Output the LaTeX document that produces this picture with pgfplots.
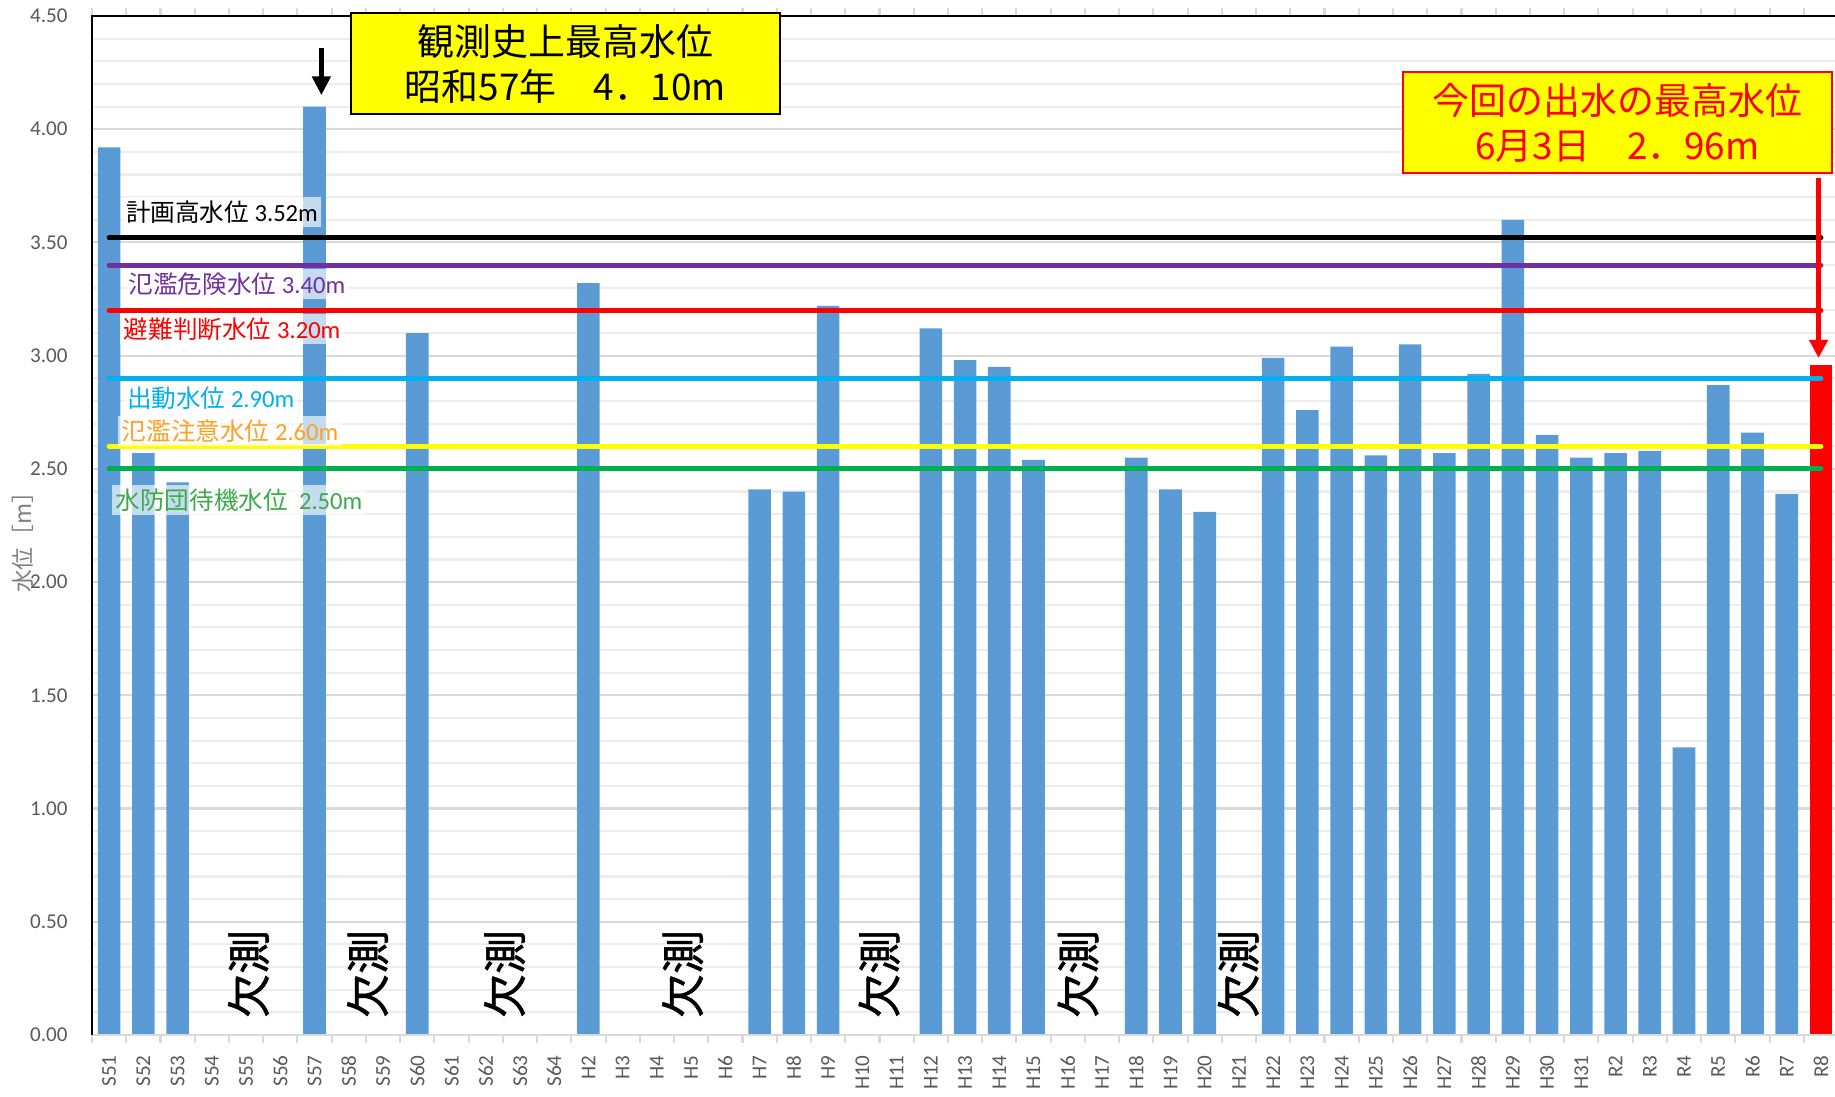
\documentclass[border=0pt]{standalone}
\usepackage{pgfplots}
\pgfplotsset{compat=1.18}
\usepackage{fontspec}
\setmainfont{Carlito}
\newfontfamily\jp{Noto Sans CJK JP}
\newfontfamily\jpb[FakeBold=1.2]{Noto Sans CJK JP}
\usetikzlibrary{arrows.meta}
\definecolor{barblue}{HTML}{5B9BD5}
\definecolor{tickgray}{HTML}{595959}
\definecolor{labgray}{HTML}{808080}
\definecolor{majgrid}{HTML}{D9D9D9}
\definecolor{mingrid}{HTML}{EDEDED}
\definecolor{lpurple}{HTML}{7030A0}
\definecolor{lcyan}{HTML}{00B0F0}
\definecolor{lgreen}{HTML}{00B050}
\definecolor{tgreen}{HTML}{3DAA4A}
\definecolor{torange}{HTML}{FFA024}
\definecolor{lyellow}{HTML}{FFFF00}
\definecolor{lred}{HTML}{FF0000}
\tikzset{lab/.style={font=\fontsize{7}{8}\selectfont, fill=white, fill opacity=0.65, text opacity=1, inner sep=1pt, anchor=west},
 kes/.style={rotate=90, font=\jpb\fontsize{12.5}{14}\selectfont, text=black}}
\begin{document}
\begin{tikzpicture}
\begin{axis}[
  scale only axis, width=17.43cm, height=10.19cm,
  xmin=-0.5, xmax=50.41, ymin=0, ymax=4.5,
  clip=false,
  axis line style={draw=none},
  tick align=outside,
  major tick length=0.8mm, minor tick length=0.8mm,
  ytick={0,0.5,...,4.5},
  minor y tick num=4,
  ymajorgrids, yminorgrids,
  major grid style={draw=majgrid, line width=0.6pt},
  minor grid style={draw=mingrid, line width=0.6pt},
  ytick style={draw=none},
  minor y tick style={draw=none},
  xtick={0,1,...,50},
  xticklabels={S51,S52,S53,S54,S55,S56,S57,S58,S59,S60,S61,S62,S63,S64,H2,H3,H4,H5,H6,H7,H8,H9,H10,H11,H12,H13,H14,H15,H16,H17,H18,H19,H20,H21,H22,H23,H24,H25,H26,H27,H28,H29,H30,H31,R2,R3,R4,R5,R6,R7,R8},
  major x tick style={draw=none},
  minor xtick={-0.5,0.5,...,50.5},
  minor x tick style={draw=majgrid, line width=0.6pt},
  tick label style={font=\fontsize{6}{7}\selectfont, text=tickgray},
  xticklabel style={rotate=90, anchor=east},
  yticklabel style={xshift=-0.4mm, /pgf/number format/.cd, fixed, fixed zerofill, precision=2, assume math mode=true},
]
% bars
\addplot[ybar, bar width=0.66, bar shift=0pt, fill=barblue, draw=none] coordinates {
(0,3.92) (1,2.57) (2,2.44) (6,4.10) (9,3.10) (14,3.32) (19,2.41) (20,2.40) (21,3.22)
(24,3.12) (25,2.98) (26,2.95) (27,2.54) (30,2.55) (31,2.41) (32,2.31) (34,2.99) (35,2.76)
(36,3.04) (37,2.56) (38,3.05) (39,2.57) (40,2.92) (41,3.60) (42,2.65) (43,2.55) (44,2.57)
(45,2.58) (46,1.27) (47,2.87) (48,2.66) (49,2.39)};
\addplot[ybar, bar width=0.66, bar shift=0pt, fill=lred, draw=none] coordinates {(50,2.96)};
% threshold lines
\addplot[black, line width=1.4pt, line cap=round] coordinates {(0,3.52) (50,3.52)};
\addplot[lpurple, line width=1.4pt, line cap=round] coordinates {(0,3.40) (50,3.40)};
\addplot[lred, line width=1.4pt, line cap=round] coordinates {(0,3.20) (50,3.20)};
\addplot[lcyan, line width=1.4pt, line cap=round] coordinates {(0,2.90) (50,2.90)};
\addplot[lyellow, line width=1.4pt, line cap=round] coordinates {(0,2.60) (50,2.60)};
\addplot[lgreen, line width=1.4pt, line cap=round] coordinates {(0,2.50) (50,2.50)};
% frame
\draw[majgrid, line width=0.6pt] (rel axis cs:0,0) -- (rel axis cs:1,0);
\draw[black, line width=0.6pt] (rel axis cs:0,0) -- (rel axis cs:0,1) -- (rel axis cs:1,1);
% labels
\node[lab, text=black] at (axis cs:0.37,3.635) {{\jp 計画高水位} 3.52m};
\node[lab, text=lpurple] at (axis cs:0.45,3.317) {{\jp 氾濫危険水位} 3.40m};
\node[lab, text=lred] at (axis cs:0.31,3.118) {{\jp 避難判断水位} 3.20m};
\node[lab, text=lcyan] at (axis cs:0.40,2.81) {{\jp 出動水位} 2.90m};
\node[lab, text=torange] at (axis cs:0.25,2.667) {{\jp 氾濫注意水位} 2.60m};
\node[lab, text=tgreen] at (axis cs:0.07,2.363) {{\jp 水防団待機水位}\ \ 2.50m};
% missing
\node[kes] at (axis cs:4.07,0.27) {欠測};
\node[kes] at (axis cs:7.55,0.27) {欠測};
\node[kes] at (axis cs:11.55,0.27) {欠測};
\node[kes] at (axis cs:16.75,0.27) {欠測};
\node[kes] at (axis cs:22.49,0.27) {欠測};
\node[kes] at (axis cs:28.3,0.27) {欠測};
\node[kes] at (axis cs:32.98,0.27) {欠測};
% arrows
\draw[-{Triangle[length=1.9mm,width=1.8mm]}, line width=0.5mm, black] (axis cs:6.2,4.36) -- (axis cs:6.2,4.15);
\draw[-{Triangle[length=1.8mm,width=1.8mm]}, line width=0.45mm, lred] (axis cs:49.93,3.785) -- (axis cs:49.93,2.99);
% y label
\node[rotate=90, text=labgray, font=\jp\fontsize{6.5}{8}\selectfont] at (rel axis cs:-0.0396,0.489) {水位［m］};
\end{axis}
\node[draw=black, line width=0.6pt, fill=lyellow, minimum width=4.29cm, minimum height=1.01cm, inner sep=0pt, align=center, font=\jp\fontsize{10.5}{12.8}\selectfont] at (4.735,9.715) {観測史上最高水位\\昭和57年　4．10m};
\node[draw=lred, line width=0.6pt, fill=lyellow, text=lred, minimum width=4.29cm, minimum height=1.01cm, inner sep=0pt, align=center, font=\jp\fontsize{10.5}{12.8}\selectfont] at (15.255,9.125) {今回の出水の最高水位\\6月3日　2．96m};
\pgfresetboundingbox
\useasboundingbox (-0.92,-0.62) rectangle (17.43,10.35);
\end{tikzpicture}
\end{document}
